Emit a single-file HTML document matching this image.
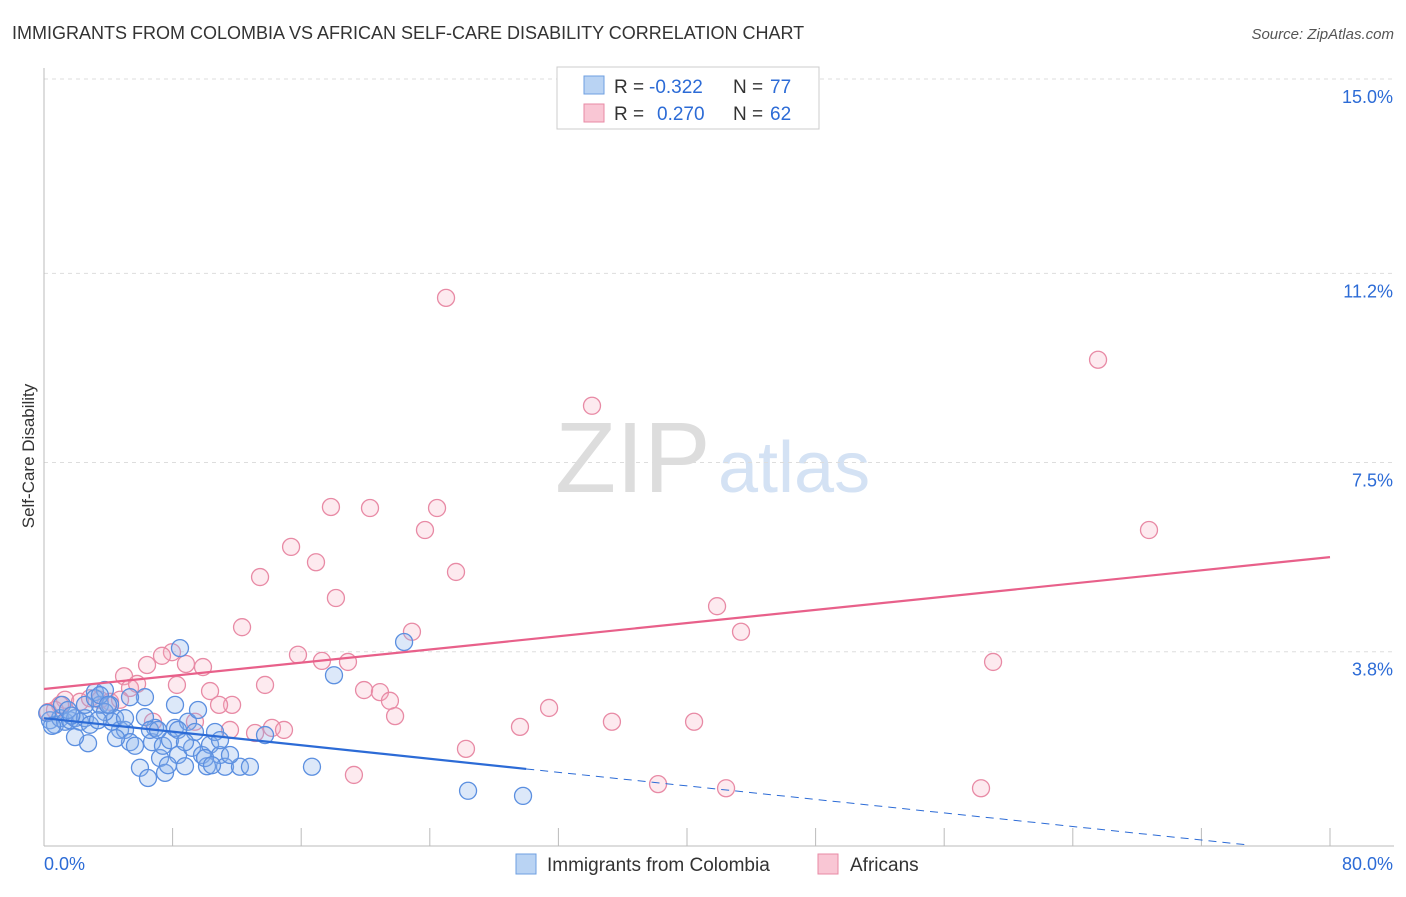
<!DOCTYPE html>
<html><head><meta charset="utf-8"><style>
body{margin:0;background:#fff;font-family:"Liberation Sans",sans-serif}
svg text{font-family:"Liberation Sans",sans-serif}
</style></head><body>
<svg id="c" width="1406" height="892">
<text x="12" y="39" font-size="18" fill="#333">IMMIGRANTS FROM COLOMBIA VS AFRICAN SELF-CARE DISABILITY CORRELATION CHART</text>
<text x="1394" y="39" font-size="15" fill="#555" font-style="italic" text-anchor="end">Source: ZipAtlas.com</text>
<text x="34" y="456" font-size="17" fill="#333" text-anchor="middle" transform="rotate(-90 34 456)">Self-Care Disability</text>
<text x="555" y="492" font-size="100" fill="#ddd" font-family="Liberation Serif">ZIP</text>
<text x="718" y="492" font-size="72" fill="#d4e2f4">atlas</text>
<g id="grid"></g><g id="pts"></g><g id="trend"></g>
<g>
<rect x="557" y="67" width="262" height="62" fill="#fff" stroke="#ccc"/>
<rect x="584" y="76" width="20" height="18" fill="#b9d3f3" stroke="#6e9fe0"/>
<rect x="584" y="104" width="20" height="18" fill="#f9c6d4" stroke="#e88aa5"/>
<text x="614" y="93" font-size="19" fill="#333">R =</text>
<text x="649" y="93" font-size="19" fill="#2c6bd6">-0.322</text>
<text x="733" y="93" font-size="19" fill="#333">N =</text>
<text x="770" y="93" font-size="19" fill="#2c6bd6">77</text>
<text x="614" y="120" font-size="19" fill="#333">R =</text>
<text x="657" y="120" font-size="19" fill="#2c6bd6">0.270</text>
<text x="733" y="120" font-size="19" fill="#333">N =</text>
<text x="770" y="120" font-size="19" fill="#2c6bd6">62</text>
</g>
<g>
<rect x="516" y="854" width="20" height="20" fill="#b9d3f3" stroke="#6e9fe0"/>
<text x="547" y="871" font-size="19" fill="#333">Immigrants from Colombia</text>
<rect x="818" y="854" width="20" height="20" fill="#f9c6d4" stroke="#e88aa5"/>
<text x="850" y="871" font-size="19" fill="#333">Africans</text>
</g>
</svg>
<script>
const yTicks=[15.0,11.2,7.5,3.8];
const yTickLabels=["15.0%","11.2%","7.5%","3.8%"];
const xTickVals=[0,8,16,24,32,40,48,56,64,72,80];
const blueX=[0.37,0.68,1.0,1.31,1.62,1.93,2.24,2.55,2.86,3.17,3.48,3.79,4.11,4.42,4.73,5.04,5.35,5.66,5.97,6.28,6.47,6.72,6.91,7.22,7.40,7.53,7.84,8.15,8.15,8.34,8.46,8.77,8.96,9.21,9.39,9.58,9.83,10.14,10.33,10.64,10.95,11.26,12.19,12.81,13.75,16.67,18.04,22.40,26.38,29.80,2.74,1.93,4.23,4.48,3.79,5.35,6.28,3.36,1.12,1.49,2.55,3.17,3.48,3.98,5.04,6.59,7.09,7.71,8.34,8.77,10.02,10.45,10.95,11.57,0.2,0.5,1.7];
const blueY=[2.46,2.37,2.50,2.43,2.46,2.50,2.43,2.50,2.37,3.01,2.76,3.05,2.76,2.50,2.27,2.27,2.03,1.96,1.53,2.91,1.33,2.03,2.31,1.72,1.96,1.43,2.07,2.31,2.76,1.78,3.87,1.56,2.43,1.92,2.23,2.66,1.78,1.56,1.98,2.23,1.78,1.55,1.55,1.55,2.17,1.55,3.34,3.99,1.08,0.98,2.01,2.13,2.43,2.11,2.62,2.91,2.52,2.46,2.76,2.66,2.76,2.89,2.95,2.76,2.50,2.27,2.27,1.58,2.27,2.03,1.72,1.58,2.07,1.78,2.60,2.35,2.55];
const pinkX=[25.01,65.57,34.09,17.85,20.28,24.45,23.70,68.74,15.37,16.92,25.63,13.44,18.16,41.87,12.32,22.89,43.36,15.80,59.04,17.29,18.91,7.96,7.34,8.83,9.89,6.41,4.98,5.35,13.75,5.79,8.27,10.33,19.91,20.90,21.52,11.70,10.89,21.84,31.42,35.33,40.44,29.61,26.25,19.28,38.20,42.43,58.29,14.18,14.93,11.57,13.13,9.39,6.78,1.31,2.24,2.86,3.48,0.68,1.0,4.11,4.73,0.25];
const pinkY=[10.72,9.51,8.61,6.63,6.61,6.61,6.18,6.18,5.85,5.55,5.36,5.26,4.85,4.69,4.28,4.19,4.19,3.74,3.60,3.62,3.60,3.79,3.72,3.56,3.50,3.54,3.32,3.09,3.15,3.17,3.15,3.03,3.05,3.01,2.84,2.76,2.76,2.54,2.70,2.43,2.43,2.33,1.90,1.39,1.21,1.13,1.13,2.31,2.27,2.27,2.21,2.43,2.43,2.86,2.82,2.89,2.86,2.66,2.76,2.82,2.86,2.62];
const blueTrend=[2.50,-0.0331];
const pinkTrend=[3.07,0.03225];
const X=v=>44+v*16.075, Y=v=>846-v*51.13;
const NS="http://www.w3.org/2000/svg";
function mk(t,a,p){const e=document.createElementNS(NS,t);for(const k in a)e.setAttribute(k,a[k]);p.appendChild(e);return e;}
const g=document.getElementById('grid');
yTicks.forEach((v,i)=>{
 const l=mk('line',{x1:44,x2:1394,y1:Y(v),y2:Y(v),stroke:'#ddd','stroke-dasharray':'4,4'},g);
 
 
 const t=mk('text',{x:1393,y:Y(v)+24,'font-size':18,fill:'#2c6bd6','text-anchor':'end'},g);
 t.textContent=yTickLabels[i];
 
 
});
const ax=mk('line',{x1:44,x2:44,y1:68,y2:846,stroke:'#bbb'},g);


const bx=mk('line',{x1:44,x2:1394,y1:846,y2:846,stroke:'#bbb'},g);


xTickVals.forEach(v=>{const t=mk('line',{x1:X(v),x2:X(v),y1:828,y2:846,stroke:'#bbb'},g);
 
 });
const x0=mk('text',{x:44,y:870,'font-size':18,fill:'#2c6bd6'},g);x0.textContent='0.0%';


const x1=mk('text',{x:1393,y:870,'font-size':18,fill:'#2c6bd6','text-anchor':'end'},g);x1.textContent='80.0%';


const p=document.getElementById('pts');
pinkX.forEach((v,i)=>{const c=mk('circle',{cx:X(v),cy:Y(pinkY[i]),r:8.5,fill:'rgba(247,170,192,0.25)',stroke:'#e88aa5','stroke-width':1.3},p);
 
 });
blueX.forEach((v,i)=>{const c=mk('circle',{cx:X(v),cy:Y(blueY[i]),r:8.5,fill:'rgba(140,180,235,0.3)',stroke:'#5b8fe0','stroke-width':1.3},p);
 
 });
const tr=document.getElementById('trend');
const bl=mk('line',{x1:X(0),y1:Y(blueTrend[0]),x2:X(30),y2:Y(blueTrend[0]+blueTrend[1]*30),stroke:'#2c6bd6','stroke-width':2.2},tr);


const bd=mk('line',{x1:X(30),y1:Y(blueTrend[0]+blueTrend[1]*30),x2:X(74.7),y2:Y(blueTrend[0]+blueTrend[1]*74.7),stroke:'#2c6bd6','stroke-width':1,'stroke-dasharray':'8,6'},tr);


const pl=mk('line',{x1:X(0),y1:Y(pinkTrend[0]),x2:X(80),y2:Y(pinkTrend[0]+pinkTrend[1]*80),stroke:'#e8608a','stroke-width':2.2},tr);


</script>
</body></html>
